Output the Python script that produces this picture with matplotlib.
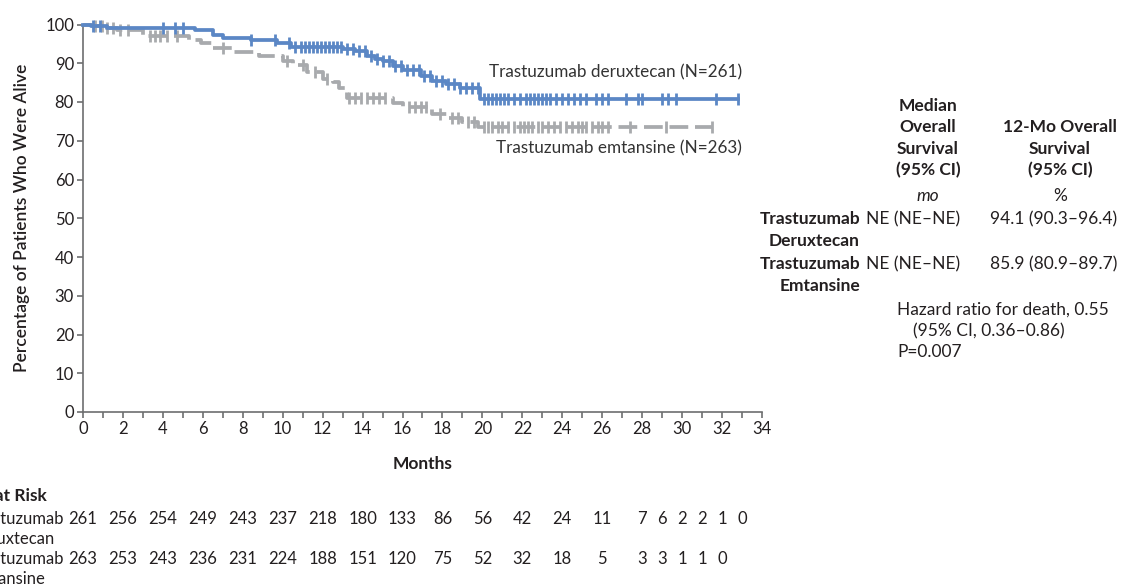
import numpy as np
import matplotlib
matplotlib.use("Agg")
import matplotlib.pyplot as plt
import matplotlib.transforms as mtransforms

plt.rcParams['font.family'] = ['Lato', 'DejaVu Sans']

# Kaplan-Meier step points (months, % alive)
dxd_t = [0, 0.4, 1.2, 5.6, 6.5, 7.0, 8.4, 9.7, 10.4, 13.0, 13.6, 14.2, 14.6, 15.0, 15.5,
         16.0, 16.9, 17.5, 18.2, 18.9, 19.9, 32.8]
dxd_v = [100, 99.6, 99.2, 98.6, 97.4, 96.6, 96.0, 95.1, 94.1, 93.6, 93.1, 91.8, 91.2, 90.5, 89.4,
         88.2, 86.6, 85.3, 84.6, 83.5, 80.8, 80.8]
tdm_t = [0, 0.5, 1.0, 1.7, 3.0, 5.3, 5.9, 6.5, 7.5, 8.8, 10.0, 10.5, 11.2, 12.0, 12.5, 12.8,
         13.2, 15.5, 16.0, 17.5, 18.3, 19.0, 19.8, 31.5]
tdm_v = [100, 99.6, 99.2, 98.6, 97.0, 96.0, 95.1, 94.0, 92.9, 92.0, 90.7, 89.5, 87.8, 86.0, 85.2, 83.5,
         81.0, 79.8, 78.6, 76.8, 76.0, 74.9, 73.6, 73.6]

# censoring times
dxd_cens = [0.5, 0.85, 4.0, 4.6, 5.0, 8.4, 9.6, 10.3, 10.6, 10.9, 11.1, 11.3, 11.5, 11.7, 11.9,
            12.1, 12.3, 12.5, 12.7, 12.9, 13.2, 13.5, 13.8, 14.1, 14.4, 14.7, 15.0, 15.3, 15.6,
            15.9, 16.2, 16.5, 16.8, 17.1, 17.4, 17.7, 18.0, 18.3, 18.6, 18.9, 19.2, 19.5, 19.8,
            20.1, 20.3, 20.5, 20.7, 20.9, 21.1, 21.3, 21.6, 21.9, 22.2, 22.4, 22.6, 22.8, 23.0,
            23.2, 23.4, 23.7, 24.0, 24.3, 24.6, 24.9, 25.2, 25.7, 26.0, 26.3, 27.2, 27.8, 28.0,
            29.0, 29.3, 29.7, 31.7, 32.8]
tdm_cens = [0.6, 0.95, 1.2, 1.5, 1.85, 2.25, 3.35, 3.6, 3.85, 4.2, 4.7, 7.0, 10.2, 11.0, 11.6,
            12.2, 13.3, 13.6, 13.9, 14.2, 14.5, 14.8, 15.1, 16.3, 16.6, 16.9, 17.2, 17.9, 18.5,
            18.8, 19.3, 19.6, 20.1, 20.3, 20.5, 20.8, 21.0, 21.3, 21.6, 21.9, 22.1, 22.3, 22.5,
            22.8, 23.0, 23.3, 23.6, 23.9, 24.2, 24.5, 24.8, 25.0, 25.2, 25.5, 25.8, 26.0, 26.3,
            27.4, 29.2, 31.5]

# number at risk
risk_months_dxd = [0, 2, 4, 6, 8, 10, 12, 14, 16, 18, 20, 22, 24, 26, 28, 29, 30, 31, 32, 33]
risk_dxd = [261, 256, 254, 249, 243, 237, 218, 180, 133, 86, 56, 42, 24, 11, 7, 6, 2, 2, 1, 0]
risk_months_tdm = [0, 2, 4, 6, 8, 10, 12, 14, 16, 18, 20, 22, 24, 26, 28, 29, 30, 31, 32]
risk_tdm = [263, 253, 243, 236, 231, 224, 188, 151, 120, 75, 52, 32, 18, 5, 3, 3, 1, 1, 0]

blue = '#5b87c5'
gray = '#a8aaad'
txt = '#231f20'

W, H = 1121, 587
fig = plt.figure(figsize=(W / 100, H / 100), dpi=100)
ax = fig.add_axes([83 / W, 1 - 412 / H, (762 - 83) / W, (412 - 24.5) / H])


def surv_at(t_steps, v_steps, times):
    idx = np.searchsorted(t_steps, times, side='right') - 1
    return np.array(v_steps)[idx]


ax.step(dxd_t, dxd_v, where='post', color=blue, lw=2.7, clip_on=False, zorder=3)
ax.plot(dxd_cens, surv_at(dxd_t, dxd_v, dxd_cens), '|', color=blue, ms=8, mew=2.0,
        clip_on=False, zorder=3)
ax.step(tdm_t, tdm_v, where='post', color=gray, lw=2.7, dashes=(5, 1.8), clip_on=False, zorder=2)
ax.plot(tdm_cens, surv_at(tdm_t, tdm_v, tdm_cens), '|', color=gray, ms=8, mew=2.0,
        clip_on=False, zorder=2)

ax.set_xlim(0, 34)
ax.set_ylim(0, 100)
ax.set_xticks(range(0, 35, 2))
ax.set_xticks(range(1, 34, 2), minor=True)
ax.set_yticks(range(0, 101, 10))
for s in ['top', 'right']:
    ax.spines[s].set_visible(False)
for s in ['left', 'bottom']:
    ax.spines[s].set_color('#6d6e70')
    ax.spines[s].set_linewidth(1.2)
ax.tick_params(axis='both', which='major', length=4.5, width=1.2, color='#6d6e70',
               labelsize=12, labelcolor=txt, pad=2)
ax.tick_params(axis='x', which='minor', length=4, width=1.2, color='#6d6e70')
ax.set_xlabel('Months', fontsize=12.5, fontweight='bold', color=txt, labelpad=14)
ax.set_ylabel('Percentage of Patients Who Were Alive', fontsize=12.5, fontweight='semibold',
              color=txt, labelpad=11)

ax.text(33, 87.6, 'Trastuzumab deruxtecan (N=261)', ha='right', va='center',
        fontsize=12.3, color='#333333')
ax.text(33, 68.0, 'Trastuzumab emtansine (N=263)', ha='right', va='center',
        fontsize=12.3, color='#333333')

# number at risk table
trans = mtransforms.blended_transform_factory(ax.transData, fig.transFigure)
fig.text(47 / W, 1 - 496 / H, 'No. at Risk', ha='right', va='center', fontsize=12.5,
         fontweight='bold', color=txt)
fig.text(64 / W, 1 - 529 / H, 'Trastuzumab\nDeruxtecan', ha='right', va='center',
         multialignment='left', fontsize=12, color=txt, linespacing=1.3)
fig.text(64 / W, 1 - 569 / H, 'Trastuzumab\nEmtansine', ha='right', va='center',
         multialignment='left', fontsize=12, color=txt, linespacing=1.3)
for m, n in zip(risk_months_dxd, risk_dxd):
    ax.text(m, 1 - 519 / H, str(n), transform=trans, ha='center', va='center',
            fontsize=12, color=txt)
for m, n in zip(risk_months_tdm, risk_tdm):
    ax.text(m, 1 - 559 / H, str(n), transform=trans, ha='center', va='center',
            fontsize=12, color=txt)

# summary table on the right
fs = 12.5
ls = 1.42
fig.text(928 / W, 1 - 138 / H, 'Median\nOverall\nSurvival\n(95% CI)', ha='center', va='center',
         fontsize=fs, fontweight='bold', color=txt, linespacing=ls)
fig.text(1060 / W, 1 - 149 / H, '12-Mo Overall\nSurvival\n(95% CI)', ha='center', va='center',
         fontsize=fs, fontweight='bold', color=txt, linespacing=ls)
fig.text(928 / W, 1 - 196 / H, 'mo', ha='center', va='center', fontsize=fs, style='italic',
         color=txt)
fig.text(1060 / W, 1 - 196 / H, '%', ha='center', va='center', fontsize=fs, color=txt)
fig.text(860 / W, 1 - 230 / H, 'Trastuzumab\nDeruxtecan', ha='right', va='center', fontsize=fs,
         fontweight='bold', color=txt, linespacing=ls, multialignment='right')
fig.text(860 / W, 1 - 275 / H, 'Trastuzumab\nEmtansine', ha='right', va='center', fontsize=fs,
         fontweight='bold', color=txt, linespacing=ls, multialignment='right')
fig.text(866 / W, 1 - 219 / H, 'NE (NE\u2013NE)', ha='left', va='center', fontsize=fs, color=txt)
fig.text(1117 / W, 1 - 219 / H, '94.1 (90.3\u201396.4)', ha='right', va='center', fontsize=fs,
         color=txt)
fig.text(866 / W, 1 - 264 / H, 'NE (NE\u2013NE)', ha='left', va='center', fontsize=fs, color=txt)
fig.text(1117 / W, 1 - 264 / H, '85.9 (80.9\u201389.7)', ha='right', va='center', fontsize=fs,
         color=txt)
fig.text(897 / W, 1 - 310 / H, 'Hazard ratio for death, 0.55', ha='left', va='center',
         fontsize=fs, color=txt)
fig.text(913 / W, 1 - 331 / H, '(95% CI, 0.36\u20130.86)', ha='left', va='center',
         fontsize=fs, color=txt)
fig.text(897 / W, 1 - 352 / H, 'P=0.007', ha='left', va='center', fontsize=fs, color=txt)

fig.savefig('out.png', dpi=100)
